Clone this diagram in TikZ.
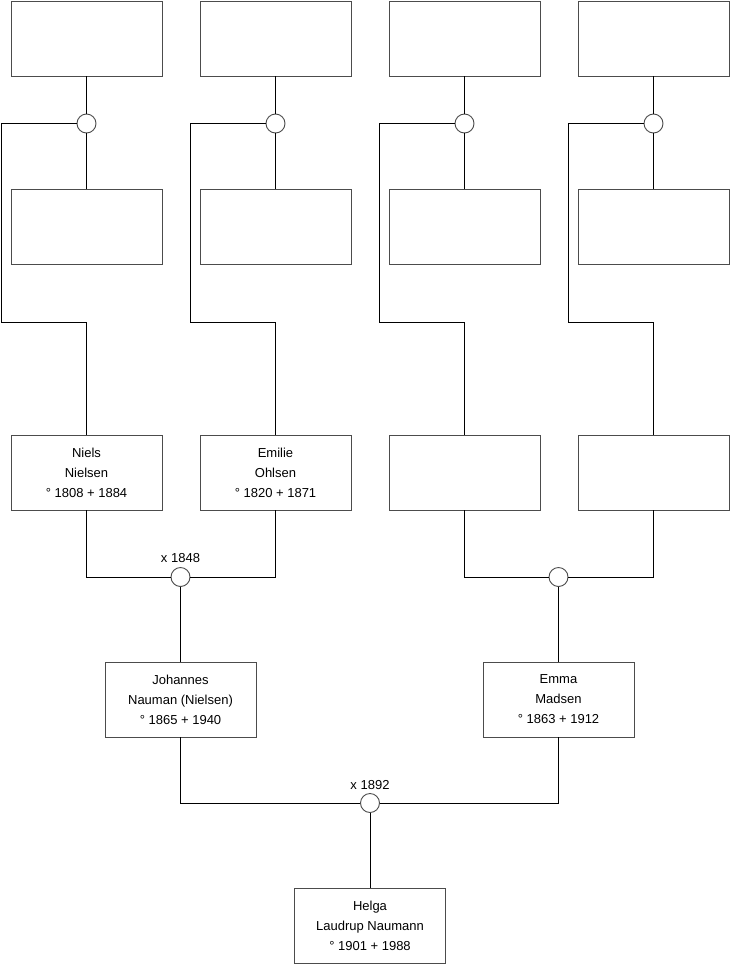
\documentclass[tikz,border=0pt]{standalone}
\usepackage{fontspec}
\setmainfont{Liberation Sans}
\usetikzlibrary{calc}

\begin{document}
\begin{tikzpicture}[
  x=1pt, y=-1pt,
  font=\fontsize{13}{20}\selectfont,
  person/.style={draw=black!70, line width=0.9pt, minimum width=151pt, minimum height=75pt,
                 align=center, inner sep=0pt},
  union/.style={draw=black!70, circle, line width=0.9pt, minimum size=19pt, inner sep=0pt, fill=white},
  link/.style={line width=0.9pt},
  year/.style={inner sep=0pt},
]
\useasboundingbox (0,0) rectangle (740,975);

% top generation
\node[person] (top1) at (86.5,38.5)  {};
\node[person] (top2) at (275.5,38.5) {};
\node[person] (top3) at (464.5,38.5) {};
\node[person] (top4) at (653.5,38.5) {};

\node[union] (u1) at (86.5,123.5)  {};
\node[union] (u2) at (275.5,123.5) {};
\node[union] (u3) at (464.5,123.5) {};
\node[union] (u4) at (653.5,123.5) {};

\node[person] (mid1) at (86.5,227)  {};
\node[person] (mid2) at (275.5,227) {};
\node[person] (mid3) at (464.5,227) {};
\node[person] (mid4) at (653.5,227) {};

% grandparents
\node[person] (niels)  at (86.5,472.5)  {Niels\\Nielsen\\° 1808 + 1884};
\node[person] (emilie) at (275.5,472.5) {Emilie\\Ohlsen\\° 1820 + 1871};
\node[person] (gp3)    at (464.5,472.5) {};
\node[person] (gp4)    at (653.5,472.5) {};

\node[union] (m1) at (180.5,577) {};
\node[union] (m2) at (558.5,577) {};
\node[year] (m1y) at (180.5,558) {x 1848};

% parents
\node[person] (johannes) at (180.5,699.5) {Johannes\\Nauman (Nielsen)\\° 1865 + 1940};
\node[person] (emma)     at (558.5,699.5) {Emma\\Madsen\\° 1863 + 1912};

\node[union] (m3) at (370,803) {};
\node[year] (m3y) at (370,785) {x 1892};

\node[person] (helga) at (370,925.5) {Helga\\Laudrup Naumann\\° 1901 + 1988};

% bend points of the long child lines
\coordinate (b1) at (1,322);
\coordinate (b2) at (190,322);
\coordinate (b3) at (379,322);
\coordinate (b4) at (568,322);

\draw[link] (top1) -- (u1);
\draw[link] (top2) -- (u2);
\draw[link] (top3) -- (u3);
\draw[link] (top4) -- (u4);

\draw[link] (u1) -- (mid1);
\draw[link] (u2) -- (mid2);
\draw[link] (u3) -- (mid3);
\draw[link] (u4) -- (mid4);

\draw[link] (u1.west) -| (b1) -| (niels.north);
\draw[link] (u2.west) -| (b2) -| (emilie.north);
\draw[link] (u3.west) -| (b3) -| (gp3.north);
\draw[link] (u4.west) -| (b4) -| (gp4.north);

\draw[link] (niels.south)  |- (m1.west);
\draw[link] (emilie.south) |- (m1.east);
\draw[link] (gp3.south)    |- (m2.west);
\draw[link] (gp4.south)    |- (m2.east);

\draw[link] (m1) -- (johannes);
\draw[link] (m2) -- (emma);

\draw[link] (johannes.south) |- (m3.west);
\draw[link] (emma.south)     |- (m3.east);
\draw[link] (m3) -- (helga);

\end{tikzpicture}
\end{document}
